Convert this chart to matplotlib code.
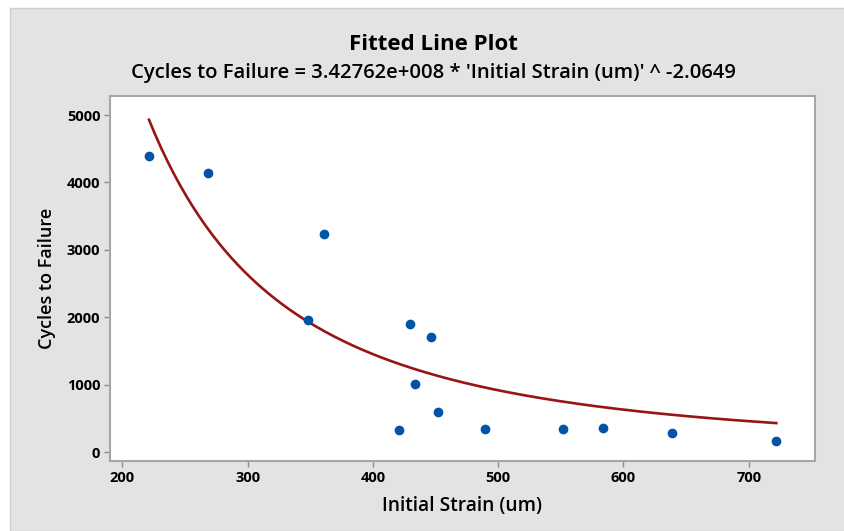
import numpy as np
import matplotlib.pyplot as plt
from matplotlib.patches import Rectangle

TITLE_SIZE = 16
SUB_SIZE = 14.6
FONT_SIZE = 13
TICK_SIZE = 10.5

# measured data
strain = [221.3, 268.2, 348.0, 360.8, 420.9, 430.0, 433.7, 446.5, 451.7,
          489.8, 552.1, 583.8, 638.9, 722.0]
cycles = [4390, 4144, 1958, 3239, 322, 1895, 1013, 1711, 589,
          341, 341, 360, 277, 163]

# power-law fit  y = a * x^b
coef_a = 3.42762e8
coef_b = -2.0649

x_ticks = [200, 300, 400, 500, 600, 700]
y_ticks = [0, 1000, 2000, 3000, 4000, 5000]

plt.rcParams["font.family"] = ["Open Sans", "DejaVu Sans"]

fig = plt.figure(figsize=(8.45, 5.31), dpi=100)
fig.patch.set_facecolor("white")
# grey graph region behind the axes
fig.patches.append(Rectangle((10 / 845, 0), 1 - 10 / 845, 1 - 8 / 531, transform=fig.transFigure,
                             facecolor="#e3e3e3", edgecolor="#cfcfcf", linewidth=1, zorder=-5))

ax = fig.add_axes([110 / 845, 1 - 461 / 531, 705 / 845, 365 / 531])
ax.set_facecolor("white")
for axis in ["top", "bottom", "left", "right"]:
    ax.spines[axis].set_linewidth(1.5)
    ax.spines[axis].set_color("#a6a6a6")

xs = np.linspace(min(strain), max(strain), 200)
ax.plot(xs, coef_a * xs ** coef_b, color="#981515", linewidth=1.9, zorder=2)
ax.plot(strain, cycles, "o", color="#0053a6", markersize=7, markeredgewidth=0, zorder=3)

ax.set_xlim(190.2, 752.9)
ax.set_ylim(-133.5, 5282)
ax.set_xticks(x_ticks)
ax.set_yticks(y_ticks)
ax.tick_params(axis="both", direction="out", length=4, width=1, color="#8c8c8c",
               labelsize=TICK_SIZE, pad=3)
for lab in ax.get_xticklabels() + ax.get_yticklabels():
    lab.set_fontweight("bold")

ax.set_xlabel("Initial Strain (um)", fontsize=13.8, fontweight="semibold", labelpad=8)
ax.set_ylabel("Cycles to Failure", fontsize=FONT_SIZE, fontweight="semibold", labelpad=8)

fig.text(0.5125, 1 - 44 / 531, "Fitted Line Plot", ha="center", va="center",
         fontsize=TITLE_SIZE, fontweight="bold")
fig.text(0.5125, 1 - 73 / 531, "Cycles to Failure = 3.42762e+008 * 'Initial Strain (um)' ^ -2.0649",
         ha="center", va="center", fontsize=SUB_SIZE, fontweight="semibold")

fig.savefig("out.png", dpi=100)
